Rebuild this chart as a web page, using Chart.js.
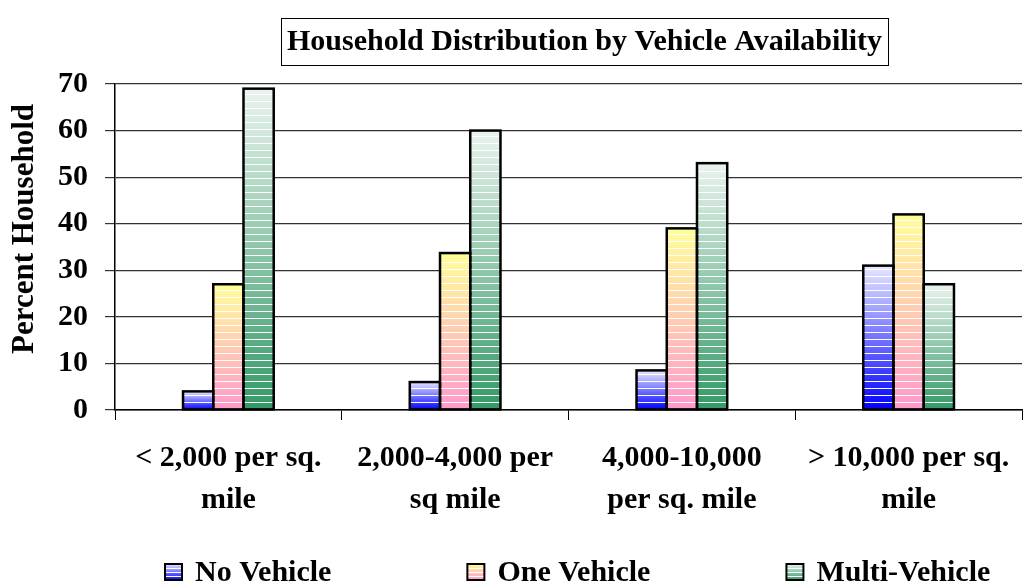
<!DOCTYPE html>
<html>
<head>
<meta charset="utf-8">
<script src="https://cdn.jsdelivr.net/npm/chart.js@4.4.0/dist/chart.umd.min.js"></script>
<style>
  html, body { margin: 0; padding: 0; background: #fff; }
  #wrap { width: 1023px; height: 588px; position: relative; }
</style>
</head>
<body>
<div id="wrap"><canvas id="chart"></canvas></div>
<script>
// Data
const categories = [
  ['< 2,000 per sq.', 'mile'],
  ['2,000-4,000 per', 'sq mile'],
  ['4,000-10,000', 'per sq. mile'],
  ['> 10,000 per sq.', 'mile']
];
const seriesNames = ['No Vehicle', 'One Vehicle', 'Multi-Vehicle'];
const noVehicle = [4, 6, 8.5, 31];
const oneVehicle = [27, 33.7, 39, 42];
const multiVehicle = [69, 60, 53, 27];
const yMin = 0, yMax = 70, yStep = 10;

const chartTitle = 'Household Distribution by Vehicle Availability';
const yTitle = 'Percent Household';

// top colour -> bottom colour of each series' gradient
const gradStops = [
  ['#e8e8ff', '#0000ff'],
  ['#ffff99', '#ff99cc'],
  ['#eaf4ee', '#339966']
];

const FONT = "'Liberation Serif', 'Times New Roman', serif";
Chart.defaults.font.family = FONT;
Chart.defaults.font.weight = 'bold';
Chart.defaults.color = '#000';

// gradient per bar, running from the bar top to its base
function barFill(c) {
  const stops = gradStops[c.datasetIndex];
  if (c.type !== 'data') return stops[1];
  const y = c.chart.scales.y;
  if (!y) return stops[1];
  const top = y.getPixelForValue(c.raw);
  const base = y.getPixelForValue(0);
  if (!isFinite(top) || !isFinite(base) || top === base) return stops[1];
  const g = c.chart.ctx.createLinearGradient(0, top, 0, base);
  g.addColorStop(0, stops[0]);
  g.addColorStop(1, stops[1]);
  return g;
}

// white stripes and black outline over every bar
const barDecor = {
  id: 'barDecor',
  afterDatasetsDraw(chart) {
    const ctx = chart.ctx;
    chart.data.datasets.forEach((ds, di) => {
      chart.getDatasetMeta(di).data.forEach(bar => {
        const { x, y, base, width } = bar.getProps(['x', 'y', 'base', 'width'], true);
        const l = x - width / 2, r = x + width / 2;
        ctx.save();
        ctx.strokeStyle = '#fff';
        ctx.lineWidth = 1;
        ctx.beginPath();
        for (let sy = base - 7; sy > y + 3; sy -= 7) {
          ctx.moveTo(l, Math.round(sy) + 0.5);
          ctx.lineTo(r, Math.round(sy) + 0.5);
        }
        ctx.stroke();
        ctx.strokeStyle = '#000';
        ctx.lineWidth = 2.5;
        ctx.strokeRect(l, y, width, base - y);
        ctx.restore();
      });
    });
  }
};

// boxed title, y axis title and the legend row at the bottom
const decor = {
  id: 'decor',
  afterDraw(chart) {
    const ctx = chart.ctx;
    ctx.save();
    ctx.font = 'bold 30px ' + FONT;
    ctx.fillStyle = '#000';
    ctx.textBaseline = 'middle';
    ctx.textAlign = 'center';
    const cx = 584.5, cy = 42;
    const tw = ctx.measureText(chartTitle).width;
    ctx.fillText(chartTitle, cx, cy);
    ctx.strokeStyle = '#000';
    ctx.lineWidth = 1;
    ctx.strokeRect(Math.round(cx - tw / 2 - 6) + 0.5, 18.5, Math.round(tw + 12), 47);

    // y axis title
    ctx.save();
    ctx.font = 'bold 31px ' + FONT;
    ctx.translate(25, 229);
    ctx.rotate(-Math.PI / 2);
    ctx.fillText(yTitle, 0, 0);
    ctx.restore();

    // legend
    ctx.font = 'bold 30px ' + FONT;
    ctx.textAlign = 'left';
    let lx = 165;
    const ly = 572;
    chart.data.datasets.forEach((ds, i) => {
      const bw = 17, bh = 16, bx = lx, by = ly - bh / 2;
      const g = ctx.createLinearGradient(0, by, 0, by + bh);
      g.addColorStop(0, gradStops[i][0]);
      g.addColorStop(1, gradStops[i][1]);
      ctx.fillStyle = g;
      ctx.fillRect(bx, by, bw, bh);
      ctx.strokeStyle = '#fff';
      ctx.lineWidth = 1;
      ctx.beginPath();
      for (let sy = by + bh - 4; sy > by + 2; sy -= 4) {
        ctx.moveTo(bx, Math.round(sy) + 0.5);
        ctx.lineTo(bx + bw, Math.round(sy) + 0.5);
      }
      ctx.stroke();
      ctx.strokeStyle = '#000';
      ctx.lineWidth = 2;
      ctx.strokeRect(bx, by, bw, bh);
      ctx.fillStyle = '#000';
      ctx.fillText(ds.label, bx + 30, ly + 1);
      lx = bx + 30 + ctx.measureText(ds.label).width + 136;
    });
    ctx.restore();
  }
};

const seriesValues = [noVehicle, oneVehicle, multiVehicle];

new Chart(document.getElementById('chart'), {
  type: 'bar',
  data: {
    labels: categories,
    datasets: seriesNames.map((name, i) => ({
      label: name,
      data: seriesValues[i],
      backgroundColor: barFill,
      borderWidth: 0,
      categoryPercentage: 0.4,
      barPercentage: 1.0
    }))
  },
  options: {
    responsive: true,
    maintainAspectRatio: false,
    animation: false,
    layout: { padding: { top: 84, right: 1, bottom: 0, left: 0 } },
    plugins: {
      legend: { display: false },
      title: { display: false },
      tooltip: { enabled: false }
    },
    scales: {
      x: {
        afterFit(scale) {
          scale.height = 178;
          scale.paddingLeft = 0;
          scale.paddingRight = 0;
        },
        border: { display: true, color: '#000', width: 1.5 },
        grid: {
          offset: true,
          drawOnChartArea: false,
          drawTicks: true,
          tickLength: 10,
          color: '#000'
        },
        ticks: {
          autoSkip: false,
          maxRotation: 0,
          padding: 17,
          font: { size: 30, weight: 'bold', lineHeight: 1.4 },
          color: '#000'
        }
      },
      y: {
        z: 1,
        min: yMin,
        max: yMax,
        afterFit(scale) { scale.width = 115; },
        border: { display: true, color: '#000', width: 1.5 },
        grid: {
          color: '#333',
          lineWidth: 1.2,
          drawTicks: true,
          tickLength: 10
        },
        ticks: {
          stepSize: yStep,
          padding: 17,
          font: { size: 30, weight: 'bold' },
          color: '#000'
        }
      }
    }
  },
  plugins: [barDecor, decor]
});
</script>
</body>
</html>
